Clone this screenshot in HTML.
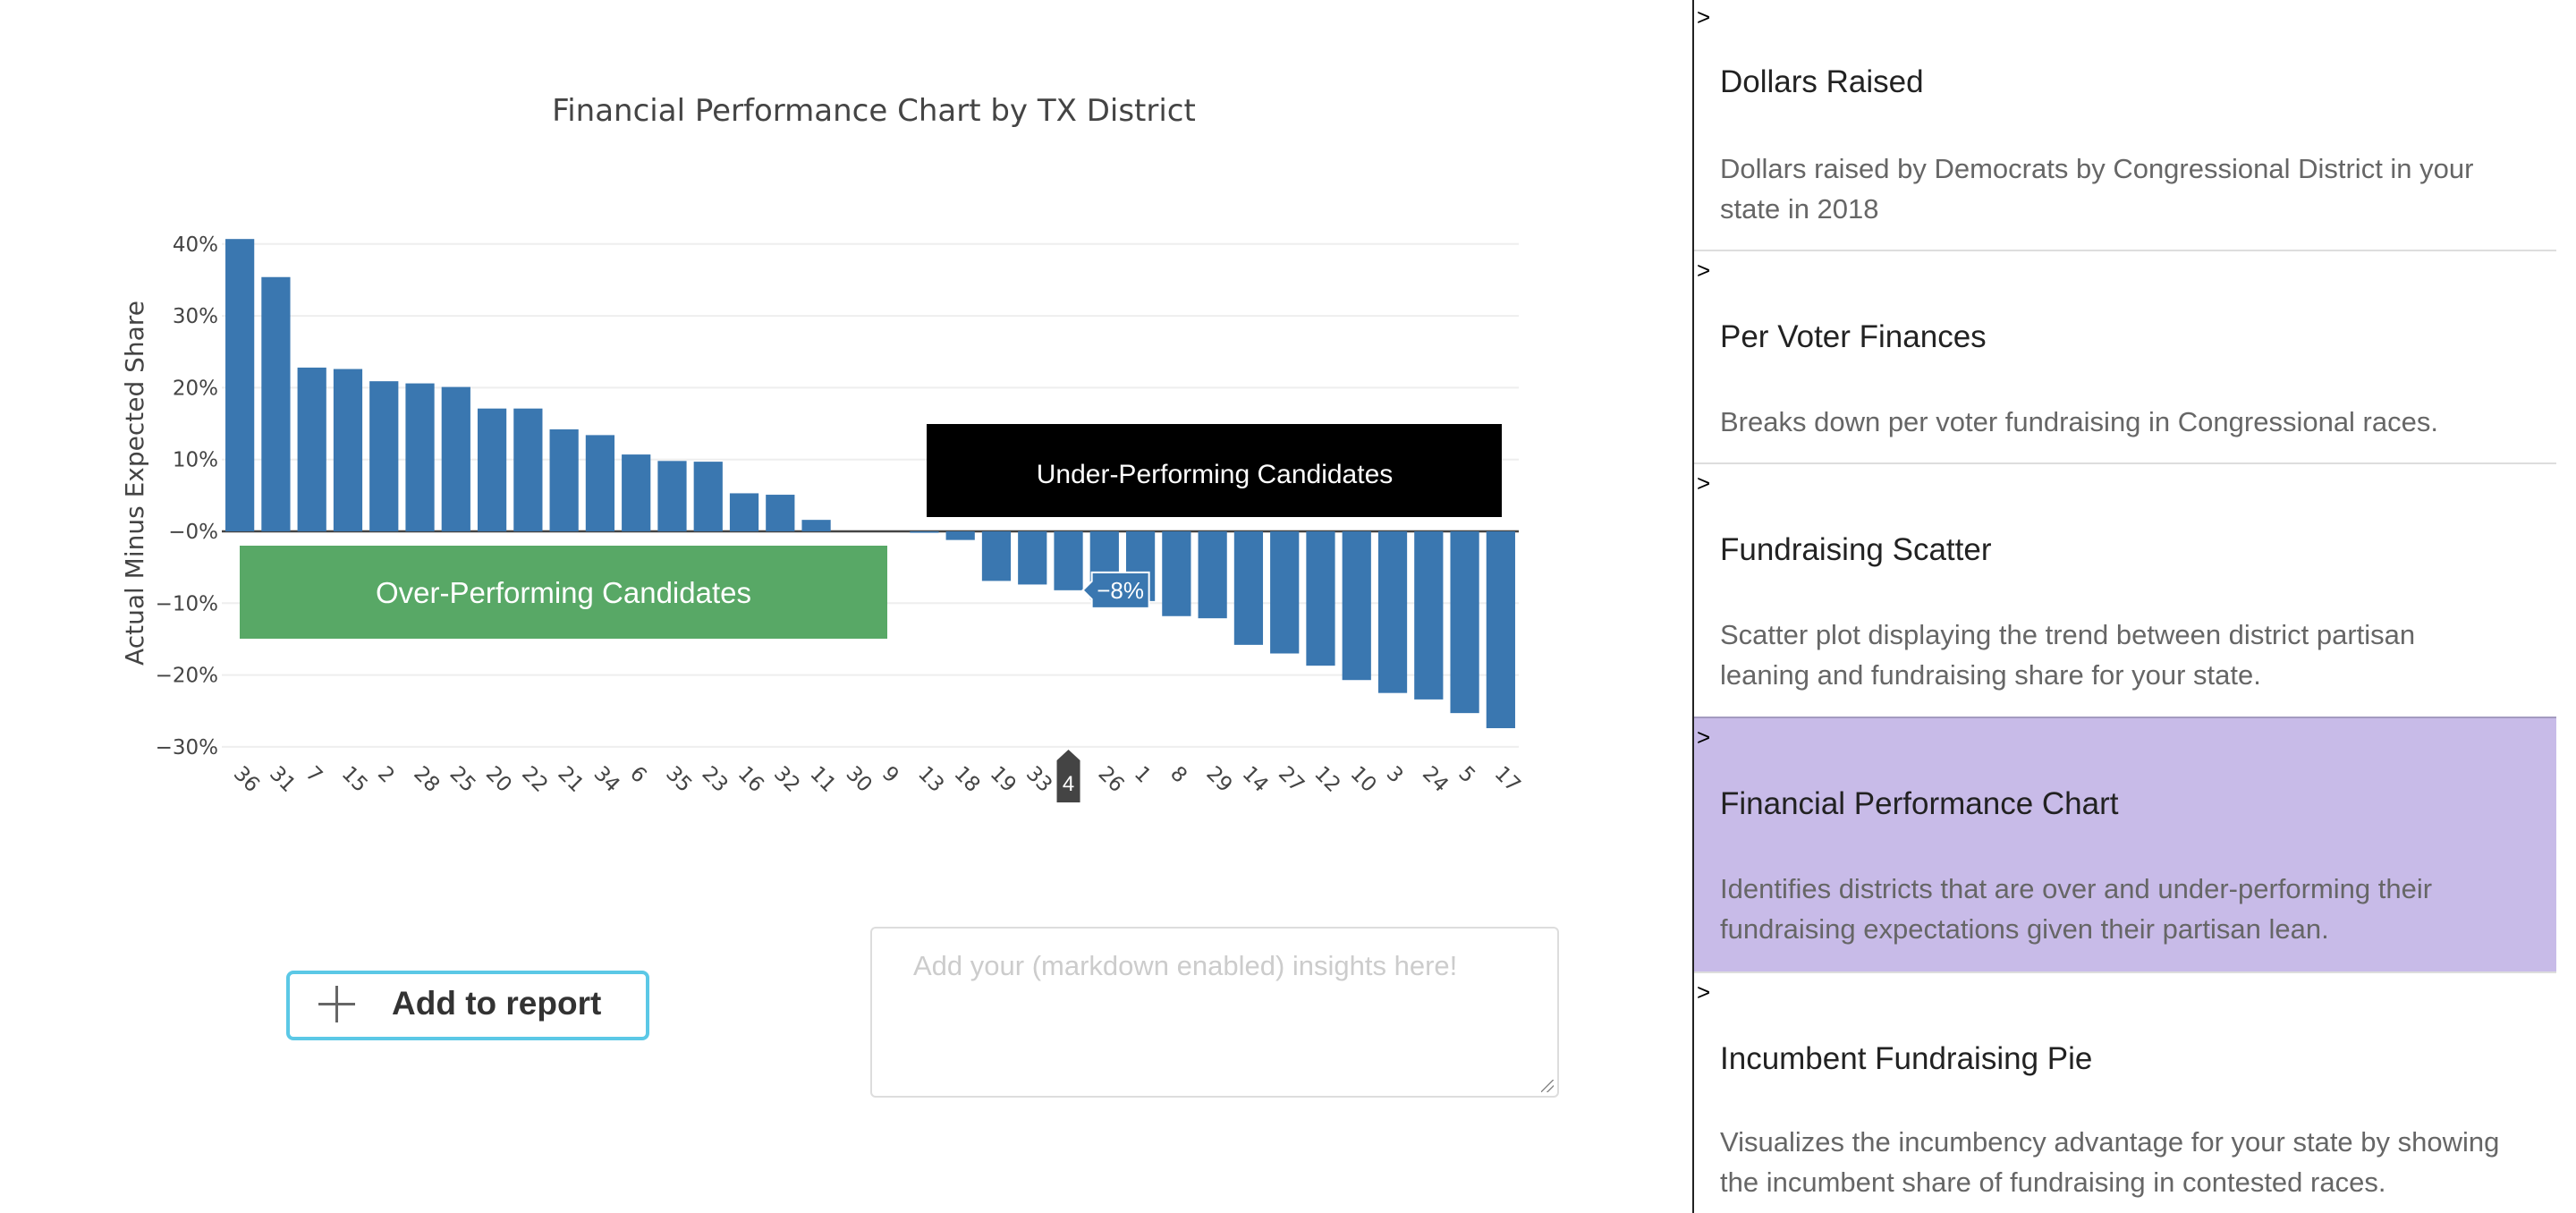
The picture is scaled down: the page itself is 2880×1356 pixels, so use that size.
<!DOCTYPE html>
<html><head><meta charset="utf-8">
<style>
html,body{margin:0;padding:0;background:#fff;}
body{width:2880px;height:1356px;position:relative;overflow:hidden;font-family:"Liberation Sans",Arial,sans-serif;}
.abs{position:absolute;}
.sec{position:absolute;left:1894px;width:964px;}
.sec .arr{position:absolute;left:3px;font-size:26px;color:#000;}
.sec .t{position:absolute;left:29px;font-size:35px;color:#222;white-space:nowrap;}
.sec .d{position:absolute;left:29px;font-size:31px;color:#666;line-height:45px;width:890px;}
.sep{position:absolute;left:1894px;width:964px;height:2px;background:#ddd;}
</style></head>
<body>
<svg class="abs" style="left:0;top:0" width="1880" height="1000">
<g id="grid"></g>
<g id="bars"></g>
<g id="ann"></g>
<g id="xlab"></g>
<g id="ylab"></g>
<text x="977" y="135" text-anchor="middle" font-family="DejaVu Sans, sans-serif" font-size="34" fill="#444">Financial Performance Chart by TX District</text>
<text transform="translate(160,540) rotate(-90)" text-anchor="middle" font-family="DejaVu Sans, sans-serif" font-size="28" fill="#444">Actual Minus Expected Share</text>
</svg>
<script>
const districts=["36","31","7","15","2","28","25","20","22","21","34","6","35","23","16","32","11","30","9","13","18","19","33","4","26","1","8","29","14","27","12","10","3","24","5","17"];
const values=[40.7,35.4,22.8,22.6,20.9,20.6,20.1,17.1,17.1,14.2,13.4,10.7,9.8,9.7,5.3,5.1,1.6,0,0,-0.2,-1.2,-6.9,-7.4,-8.2,-9.5,-9.7,-11.8,-12.1,-15.8,-17.0,-18.7,-20.7,-22.5,-23.4,-25.3,-27.4];
const yTicks=[40,30,20,10,0,-10,-20,-30];
const yTickLabels=["40%","30%","20%","10%","\u22120%","\u221210%","\u221220%","\u221230%"];
const hoverIndex=23;
const hoverLabel="\u22128%";
const NS="http://www.w3.org/2000/svg";
const X0=248,X1=1698,Y0=594,PER=8.03;
const bw=(X1-X0)/districts.length;
function xc(i){return X0+bw*(i+0.5);}
function y(v){return Y0-v*PER;}
function mk(tag,attrs,parent){const e=document.createElementNS(NS,tag);for(const k in attrs)e.setAttribute(k,attrs[k]);parent.appendChild(e);return e;}
const grid=document.getElementById('grid'),bars=document.getElementById('bars'),xl=document.getElementById('xlab'),yl=document.getElementById('ylab'),ann=document.getElementById('ann');
yTicks.forEach((t,i)=>{
  if(t!==0){const g=mk('line',{x1:X0,x2:X1,y1:y(t),y2:y(t),stroke:'#eee','stroke-width':2},grid);
  
  }
  const tx=mk('text',{x:X0-4,y:y(t)+8,'text-anchor':'end','font-family':'DejaVu Sans, sans-serif','font-size':23,fill:'#444'},yl);
  tx.textContent=yTickLabels[i];
  
  
});
values.forEach((v,i)=>{
  if(v===0)return;
  const top=Math.min(y(v),Y0),h=Math.max(Math.abs(y(v)-Y0),1);
  const r=mk('rect',{x:xc(i)-bw*0.4,y:top,width:bw*0.8,height:h,fill:'#3a77b0'},bars);
  
  
});
values.forEach((v,i)=>{
  if(i!==hoverIndex){
    const t=mk('text',{transform:'translate('+(xc(i)-8)+',866) rotate(45)','font-family':'DejaVu Sans, sans-serif','font-size':23,fill:'#444'},xl);
    t.textContent=districts[i];
    
    
  }
});
const zl=mk('line',{x1:X0,x2:X1,y1:Y0,y2:Y0,stroke:'#444','stroke-width':2.5},grid);


const g1=mk('rect',{x:268,y:610,width:724,height:104,fill:'#58a866'},ann);


const g1t=mk('text',{x:630,y:674,'text-anchor':'middle','font-size':33,fill:'#fff','font-family':'Liberation Sans, Arial, sans-serif'},ann);
g1t.textContent='Over-Performing Candidates';


const b1=mk('rect',{x:1036,y:474,width:643,height:104,fill:'#000'},ann);


const b1t=mk('text',{x:1358,y:540,'text-anchor':'middle','font-size':30,fill:'#fff','font-family':'Liberation Sans, Arial, sans-serif'},ann);
b1t.textContent='Under-Performing Candidates';


const hx=xc(hoverIndex)+bw*0.4,hy=y(values[hoverIndex]);
const tip=mk('path',{d:'M'+hx+','+hy+' l10,-10 v-10 h64 v40 h-64 v-10 z',fill:'#3a77b0',stroke:'#fff','stroke-width':2},ann);


const tipt=mk('text',{x:hx+42,y:hy+9,'text-anchor':'middle','font-size':26,fill:'#fff','font-family':'Liberation Sans, Arial, sans-serif'},ann);
tipt.textContent=hoverLabel;


const hc=xc(hoverIndex);
const hb=mk('path',{d:'M'+(hc-13)+',897 v-47 l13,-12 l13,12 v47 z',fill:'#444'},xl);


const hbt=mk('text',{x:hc,y:884,'text-anchor':'middle','font-size':24,fill:'#fff','font-family':'Liberation Sans, Arial, sans-serif'},xl);
hbt.textContent=districts[hoverIndex];


</script>

<div class="abs" style="left:320px;top:1085px;width:398px;height:70px;border:4px solid #5bc8e6;border-radius:8px;background:#fff;">
  <div class="abs" style="left:51px;top:13px;width:3px;height:41px;background:#666;"></div>
  <div class="abs" style="left:32px;top:32px;width:41px;height:3px;background:#666;"></div>
  <div class="abs" style="left:114px;top:12px;font-size:37px;font-weight:bold;color:#333;white-space:nowrap;">Add to report</div>
</div>
<div class="abs" style="left:973px;top:1036px;width:766px;height:187px;border:2px solid #ddd;border-radius:6px;background:#fff;">
  <div class="abs" style="left:46px;top:24px;font-size:31px;color:#ccc;white-space:nowrap;">Add your (markdown enabled) insights here!</div>
  <div class="abs" style="right:4px;bottom:4px;width:14px;height:14px;background:linear-gradient(135deg,transparent 45%,#888 46%,#888 52%,transparent 53%,transparent 70%,#888 71%,#888 77%,transparent 78%);"></div>
</div>

<div class="abs" style="left:1892px;top:0;width:2px;height:1356px;background:#222;"></div>

<div class="sec" style="top:0;height:279px;">
  <div class="arr" style="top:4px;">&gt;</div>
  <div class="t" style="top:72px;">Dollars Raised</div>
  <div class="d" style="top:166px;width:870px;">Dollars raised by Democrats by Congressional District in your state in 2018</div>
</div>
<div class="sep" style="top:279px;"></div>
<div class="sec" style="top:281px;height:236px;">
  <div class="arr" style="top:6px;">&gt;</div>
  <div class="t" style="top:76px;">Per Voter Finances</div>
  <div class="d" style="top:168px;">Breaks down per voter fundraising in Congressional races.</div>
</div>
<div class="sep" style="top:517px;"></div>
<div class="sec" style="top:519px;height:282px;">
  <div class="arr" style="top:6px;">&gt;</div>
  <div class="t" style="top:76px;">Fundraising Scatter</div>
  <div class="d" style="top:168px;width:870px;">Scatter plot displaying the trend between district partisan leaning and fundraising share for your state.</div>
</div>
<div class="sec" style="top:801px;height:284px;background:#c8bbe8;border-top:2px solid #a39ac0;">
  <div class="arr" style="top:6px;">&gt;</div>
  <div class="t" style="top:76px;">Financial Performance Chart</div>
  <div class="d" style="top:168px;width:870px;">Identifies districts that are over and under-performing their fundraising expectations given their partisan lean.</div>
</div>
<div class="sep" style="top:1086px;"></div>
<div class="sec" style="top:1088px;height:268px;">
  <div class="arr" style="top:6px;">&gt;</div>
  <div class="t" style="top:76px;">Incumbent Fundraising Pie</div>
  <div class="d" style="top:166px;width:900px;">Visualizes the incumbency advantage for your state by showing the incumbent share of fundraising in contested races.</div>
</div>
</body></html>
